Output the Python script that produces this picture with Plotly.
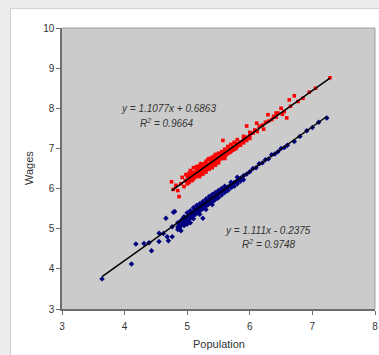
import plotly.graph_objects as go

# ---- data ----
red_x = [4.75, 4.87, 4.78, 4.82, 4.85, 4.90, 4.92, 4.95, 4.97, 4.98,
         5.00, 5.00, 5.00, 5.03, 5.03, 5.03, 5.05, 5.05, 5.05, 5.08, 5.08, 5.08,
         5.10, 5.10, 5.10, 5.10, 5.12, 5.12, 5.12, 5.15, 5.15, 5.15, 5.15,
         5.18, 5.18, 5.18, 5.20, 5.20, 5.20, 5.20, 5.22, 5.22, 5.22,
         5.25, 5.25, 5.25, 5.25, 5.28, 5.28, 5.28, 5.30, 5.30, 5.30, 5.30,
         5.33, 5.33, 5.33, 5.35, 5.35, 5.35, 5.35, 5.38, 5.38, 5.38,
         5.40, 5.40, 5.40, 5.40, 5.43, 5.43, 5.43, 5.45, 5.45, 5.45, 5.45,
         5.48, 5.48, 5.50, 5.50, 5.50, 5.50, 5.53, 5.53, 5.55, 5.55, 5.55,
         5.57, 5.58, 5.58, 5.60, 5.60, 5.60, 5.60, 5.63, 5.63, 5.65, 5.65, 5.65,
         5.68, 5.68, 5.70, 5.70, 5.70, 5.73, 5.73, 5.75, 5.75, 5.75,
         5.78, 5.78, 5.80, 5.80, 5.80, 5.85, 5.85, 5.90, 5.90, 5.90,
         5.95, 5.95, 5.95, 6.00, 6.00, 6.00,
         6.05, 6.08, 6.11, 6.12, 6.15, 6.20, 6.22, 6.25, 6.29, 6.30, 6.35, 6.38,
         6.42, 6.42, 6.45, 6.50, 6.52, 6.55, 6.59, 6.63, 6.65, 6.71, 6.77,
         6.85, 6.95, 7.05, 7.28]
red_y = [6.17, 5.80, 5.98, 6.08, 5.95, 6.12, 6.28, 6.05, 6.20, 6.35,
         6.18, 6.30, 6.12, 6.26, 6.38, 6.15, 6.22, 6.33, 6.45, 6.29, 6.20, 6.41,
         6.35, 6.24, 6.52, 6.31, 6.40, 6.28, 6.36, 6.38, 6.47, 6.30, 6.55,
         6.42, 6.35, 6.50, 6.45, 6.38, 6.58, 6.30, 6.49, 6.40, 6.62,
         6.50, 6.43, 6.58, 6.36, 6.54, 6.47, 6.62, 6.56, 6.48, 6.68, 6.41,
         6.60, 6.52, 6.72, 6.62, 6.55, 6.48, 6.75, 6.65, 6.58, 6.70,
         6.67, 6.60, 6.78, 6.52, 6.70, 6.62, 6.80, 6.72, 6.66, 6.58, 6.85,
         6.76, 6.68, 6.78, 6.70, 6.88, 6.64, 6.80, 6.74, 6.84, 6.75, 6.92,
         7.20, 6.86, 6.79, 6.89, 6.80, 6.98, 6.75, 6.92, 6.85, 6.95, 6.88, 7.05,
         6.97, 6.90, 7.00, 6.93, 7.10, 7.03, 6.96, 7.05, 7.15, 6.98,
         7.08, 7.00, 7.12, 7.05, 7.22, 7.16, 7.08, 7.22, 7.30, 7.14,
         7.28, 7.20, 7.56, 7.33, 7.40, 7.25,
         7.38, 7.46, 7.63, 7.42, 7.55, 7.58, 7.48, 7.65, 7.84, 7.68, 7.72, 7.80,
         7.78, 7.88, 7.88, 8.00, 7.85, 7.92, 7.76, 8.21, 8.05, 8.31, 8.17,
         8.25, 8.40, 8.50, 8.76]

blue_x = [3.64, 4.11, 4.18, 4.31, 4.39, 4.43, 4.55, 4.55, 4.68, 4.70, 4.66,
          4.76, 4.78, 4.76, 4.80, 4.62,
          4.85, 4.85, 4.85, 4.88, 4.88, 4.90, 4.90, 4.90, 4.93, 4.93,
          4.95, 4.95, 4.95, 4.98, 4.98, 5.00, 5.00, 5.00, 5.00, 5.03, 5.03,
          5.05, 5.05, 5.05, 5.05, 5.08, 5.08, 5.10, 5.10, 5.10, 5.10,
          5.13, 5.13, 5.15, 5.15, 5.15, 5.18, 5.18, 5.20, 5.20, 5.20, 5.20,
          5.23, 5.23, 5.25, 5.25, 5.25, 5.25, 5.28, 5.28, 5.30, 5.30, 5.30, 5.30,
          5.33, 5.33, 5.35, 5.35, 5.35, 5.38, 5.38, 5.40, 5.40, 5.40, 5.40,
          5.43, 5.43, 5.45, 5.45, 5.45, 5.48, 5.48, 5.50, 5.50, 5.50,
          5.55, 5.55, 5.55, 5.60, 5.60, 5.60, 5.65, 5.65, 5.70, 5.70, 5.70,
          5.75, 5.75, 5.80, 5.80, 5.80, 5.85, 5.85, 5.90, 5.90,
          5.95, 6.00, 6.05, 6.10, 6.15, 6.20, 6.25, 6.30, 6.35, 6.40, 6.45,
          6.50, 6.55, 6.60, 6.71, 6.80, 6.91, 7.00, 7.10, 7.23]
blue_y = [3.75, 4.12, 4.62, 4.63, 4.65, 4.45, 4.89, 4.68, 4.80, 4.70, 5.26,
          5.05, 5.41, 4.80, 5.43, 4.88,
          5.05, 4.98, 5.15, 5.10, 5.02, 5.20, 5.08, 4.95, 5.12, 5.25,
          5.18, 5.08, 5.30, 5.22, 5.12, 5.30, 5.20, 5.40, 5.12, 5.32, 5.24,
          5.36, 5.26, 5.45, 5.15, 5.38, 5.30, 5.42, 5.33, 5.25, 5.52,
          5.45, 5.36, 5.48, 5.38, 5.58, 5.50, 5.42, 5.54, 5.45, 5.62, 5.36,
          5.56, 5.48, 5.60, 5.50, 5.26, 5.68, 5.62, 5.54, 5.66, 5.56, 5.74, 5.48,
          5.68, 5.60, 5.72, 5.62, 5.80, 5.74, 5.66, 5.76, 5.68, 5.85, 5.60,
          5.80, 5.70, 5.82, 5.74, 5.90, 5.85, 5.76, 5.88, 5.78, 5.95,
          5.92, 5.84, 6.00, 5.98, 5.90, 6.06, 6.04, 5.95, 6.10, 6.02, 6.16,
          6.15, 6.06, 6.20, 6.12, 6.28, 6.26, 6.18, 6.32, 6.22,
          6.36, 6.42, 6.50, 6.52, 6.62, 6.64, 6.72, 6.74, 6.84, 6.86, 6.92,
          7.00, 7.02, 7.08, 7.17, 7.30, 7.44, 7.52, 7.65, 7.76]

red_slope, red_intercept, red_r2 = 1.1077, 0.6863, 0.9664
blue_slope, blue_intercept, blue_r2 = 1.111, -0.2375, 0.9748

x_ticks = [3, 4, 5, 6, 7, 8]
y_ticks = [3, 4, 5, 6, 7, 8, 9, 10]

FONT = "Liberation Sans, Arial, sans-serif"
AX = "#6e6e6e"

fig = go.Figure()
fig.add_trace(go.Scatter(x=blue_x, y=blue_y, mode="markers",
                         marker=dict(symbol="diamond", size=4.2, color="#000080"),
                         showlegend=False, hoverinfo="x+y"))
fig.add_trace(go.Scatter(x=red_x, y=red_y, mode="markers",
                         marker=dict(symbol="square", size=3.6, color="#ff0000"),
                         showlegend=False, hoverinfo="x+y"))

# trend lines over each series' x-range
for xs, m, b in [(red_x, red_slope, red_intercept), (blue_x, blue_slope, blue_intercept)]:
    x0, x1 = min(xs), max(xs)
    fig.add_trace(go.Scatter(x=[x0, x1], y=[m * x0 + b, m * x1 + b], mode="lines",
                             line=dict(color="black", width=1.5),
                             showlegend=False, hoverinfo="skip"))

ann_font = dict(family=FONT, size=10, color="#333333")

def eq_text(m, b):
    sign = "+" if b >= 0 else "-"
    return f"<i>y = {m:g}x {sign} {abs(b):g}</i>"

annotations = [
    dict(x=4.70, y=7.99, xref="x", yref="y", text=eq_text(red_slope, red_intercept),
         showarrow=False, font=ann_font, xanchor="center", yanchor="middle"),
    dict(x=4.67, y=7.64, xref="x", yref="y", text=f"<i>R<sup>2</sup> = {red_r2:g}</i>",
         showarrow=False, font=ann_font, xanchor="center", yanchor="middle"),
    dict(x=6.29, y=4.96, xref="x", yref="y", text=eq_text(blue_slope, blue_intercept),
         showarrow=False, font=ann_font, xanchor="center", yanchor="middle"),
    dict(x=6.31, y=4.61, xref="x", yref="y", text=f"<i>R<sup>2</sup> = {blue_r2:g}</i>",
         showarrow=False, font=ann_font, xanchor="center", yanchor="middle"),
    dict(x=-0.107, y=0.5, xref="paper", yref="paper", text="Wages", textangle=-90,
         showarrow=False, font=dict(family=FONT, size=11, color="#333333"),
         xanchor="center", yanchor="middle"),
    dict(x=0.5, y=-0.1246, xref="paper", yref="paper", text="Population",
         showarrow=False, font=dict(family=FONT, size=11, color="#333333"),
         xanchor="center", yanchor="middle"),
]

shapes = [
    # outer grey window frame
    dict(type="rect", xref="paper", yref="paper", x0=-0.3, x1=1.2, y0=1.0694, y1=1.3,
         fillcolor="#ececec", line=dict(width=0), layer="below"),
    dict(type="rect", xref="paper", yref="paper", x0=-0.3, x1=-0.1646, y0=-0.3, y1=1.3,
         fillcolor="#ececec", line=dict(width=0), layer="below"),
    dict(type="line", xref="paper", yref="paper", x0=-0.1646, x1=-0.1646, y0=-0.3, y1=1.0694,
         line=dict(color="#d2d2d2", width=1)),
    dict(type="line", xref="paper", yref="paper", x0=-0.1646, x1=1.2, y0=1.0694, y1=1.0694,
         line=dict(color="#d2d2d2", width=1)),
    # plot-area border (top and right)
    dict(type="line", xref="paper", yref="paper", x0=0, x1=1, y0=1, y1=1,
         line=dict(color="#a0a0a0", width=1)),
    dict(type="line", xref="paper", yref="paper", x0=1, x1=1, y0=0, y1=1,
         line=dict(color="#a0a0a0", width=1)),
]

fig.update_layout(
    width=379, height=355,
    margin=dict(l=62, r=1, t=28, b=46),
    paper_bgcolor="white",
    plot_bgcolor="#cbcbcb",
    font=dict(family=FONT, size=10, color="#333333"),
    annotations=annotations,
    shapes=shapes,
    xaxis=dict(range=[3, 8], tickvals=x_ticks, ticktext=[str(v) for v in x_ticks],
               showgrid=False, zeroline=False, showline=True, linecolor=AX, linewidth=1.5,
               ticks="outside", ticklen=4, tickcolor=AX, tickwidth=1,
               ticklabeloverflow="allow", ticklabelstandoff=3,
               tickfont=dict(family=FONT, size=10, color="#333333")),
    yaxis=dict(range=[3, 10], tickvals=y_ticks, ticktext=[str(v) for v in y_ticks],
               showgrid=False, zeroline=False, showline=True, linecolor=AX, linewidth=1.5,
               ticks="outside", ticklen=4, tickcolor=AX, tickwidth=1,
               tickfont=dict(family=FONT, size=10, color="#333333")),
)

fig.write_html("out.html", config={"displayModeBar": False},
               post_script="document.body.style.margin='0';document.body.style.overflow='hidden';")
